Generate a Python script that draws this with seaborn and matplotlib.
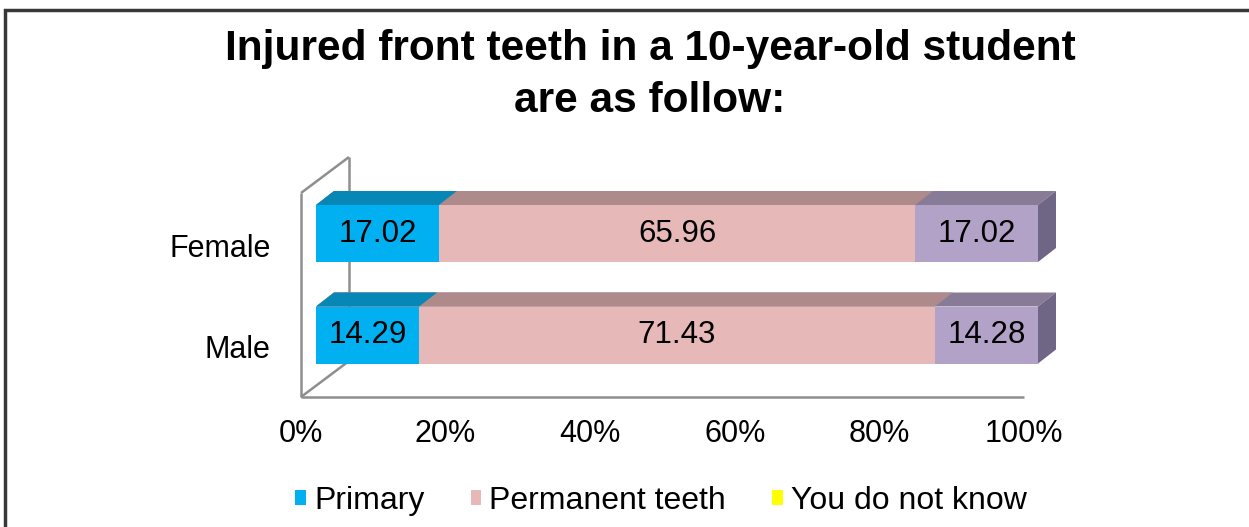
import numpy as np
import matplotlib
matplotlib.use("Agg")
import matplotlib.pyplot as plt
import seaborn as sns
from matplotlib.patches import Polygon, Rectangle, Patch
from matplotlib.ticker import PercentFormatter

# ---------------- data ----------------
categories = ["Female", "Male"]
series_names = ["Primary", "Permanent teeth", "You do not know"]
primary = [17.02, 14.29]
permanent = [65.96, 71.43]
unknown = [17.02, 14.28]
x_ticks = [0, 20, 40, 60, 80, 100]
title = "Injured front teeth in a 10-year-old student\nare as follow:"

# ---------------- styles ----------------
front_colors = ["#00B0F0", "#E6B9B8", "#B3A2C7"]
top_colors = ["#0787B6", "#AE8B8A", "#887B98"]
side_color = "#6F6584"
legend_colors = ["#00B0F0", "#E6B9B8", "#FFFF00"]
wall_color = "#8E8E8E"

sns.set_theme(style="white")
plt.rcParams["font.family"] = ["Liberation Sans", "DejaVu Sans"]
plt.rcParams["text.color"] = "black"
plt.rcParams["xtick.color"] = "black"
plt.rcParams["ytick.color"] = "black"
plt.rcParams["axes.labelcolor"] = "black"

W, H = 1249, 527
fig = plt.figure(figsize=(W / 100, H / 100), dpi=100)
fig.patch.set_facecolor("white")


def fx(px):
    return px / W


def fy(py):
    return 1 - py / H


# floor / wall axes (carries the tick labels)
ax2 = fig.add_axes([fx(301), fy(397), fx(1024) - fx(301), fy(157) - fy(397)])
# bar axes (front plane of the bars)
ax = fig.add_axes([fx(316), fy(397), fx(1038) - fx(316), fy(157) - fy(397)])
ax2.set_zorder(1)
ax.set_zorder(2)

values = np.array([primary, permanent, unknown])
cum = values.cumsum(axis=0)

# stacked bars: draw cumulative totals from longest to shortest
groups = {}
for i in reversed(range(len(series_names))):
    n0 = len(ax.patches)
    sns.barplot(x=cum[i], y=categories, orient="h", color=front_colors[i],
                saturation=1, width=0.5616, linewidth=0, ax=ax)
    groups[i] = ax.patches[n0:]

ax.set_xlim(0, 100)
ax.set_ylim(1.6108, -0.7537)
ax.set_axis_off()

# 3D depth offsets converted to data units
inv = ax.transData.inverted()
o = inv.transform(ax.transData.transform((0, 0)))
d = inv.transform(ax.transData.transform((0, 0)) + np.array([18, 14]))
ddx, ddy = d - o

for i in reversed(range(len(series_names))):
    for p in groups[i]:
        x0, w = p.get_x(), p.get_width()
        yt, h = p.get_y(), p.get_height()
        top = Polygon([(x0, yt), (x0 + w, yt), (x0 + w + ddx, yt + ddy), (x0 + ddx, yt + ddy)],
                      closed=True, facecolor=top_colors[i], edgecolor="none", clip_on=False)
        ax.add_patch(top)
        if i == len(series_names) - 1:
            side = Polygon([(x0 + w, yt), (x0 + w + ddx, yt + ddy),
                            (x0 + w + ddx, yt + h + ddy), (x0 + w, yt + h)],
                           closed=True, facecolor=side_color, edgecolor="none", clip_on=False)
            ax.add_patch(side)

# value labels
centers = cum - values / 2
for i in range(len(series_names)):
    for j in range(len(categories)):
        ax.text(centers[i, j], j, f"{values[i, j]:.2f}", ha="center", va="center",
                fontsize=22.5, color="black", clip_on=False)

# floor axes: ticks, labels and wall
ax2.set_xlim(0, 100)
ax2.set_ylim(1.495, -0.881)
ax2.set_xticks(x_ticks)
ax2.xaxis.set_major_formatter(PercentFormatter(decimals=0))
ax2.set_yticks(range(len(categories)))
ax2.set_yticklabels(categories)
ax2.tick_params(axis="both", length=0, labelsize=22, colors="black")
ax2.tick_params(axis="x", pad=16)
ax2.tick_params(axis="y", pad=22)
for s in ax2.spines.values():
    s.set_visible(False)
ax2.patch.set_visible(False)
ax2.grid(False)

wx, wy_top, wy_back = 48 / 723, 0.85, 0.15
lines = [
    [(0, 0), (0, wy_top)],
    [(0, wy_top), (wx, 1.0)],
    [(wx, 1.0), (wx, wy_back)],
    [(0, 0), (wx, wy_back)],
    [(0, 0), (1, 0)],
]
for seg in lines:
    xs, ys = zip(*seg)
    ax2.plot(xs, ys, color=wall_color, lw=1.8, transform=ax2.transAxes, clip_on=False,
             solid_capstyle="butt")

# title
fig.text(fx(650), fy(29), title, ha="center", va="top", fontsize=30.5,
         fontweight="bold", linespacing=1.38, color="black")

# legend
handles = [Patch(facecolor=c, edgecolor="none", label=n) for c, n in zip(legend_colors, series_names)]
fig.legend(handles=handles, loc="center", bbox_to_anchor=(fx(661), fy(501)), ncol=3,
           frameon=False, fontsize=23, handlelength=0.33, handleheight=0.33,
           handletextpad=0.25, columnspacing=1.45, borderpad=0)

# outer frame
fig.add_artist(Rectangle((fx(5), -0.05), 1.2, fy(10) + 0.05, transform=fig.transFigure,
                         fill=False, edgecolor="#383838", linewidth=2.5))

fig.savefig("out.png", dpi=100)
